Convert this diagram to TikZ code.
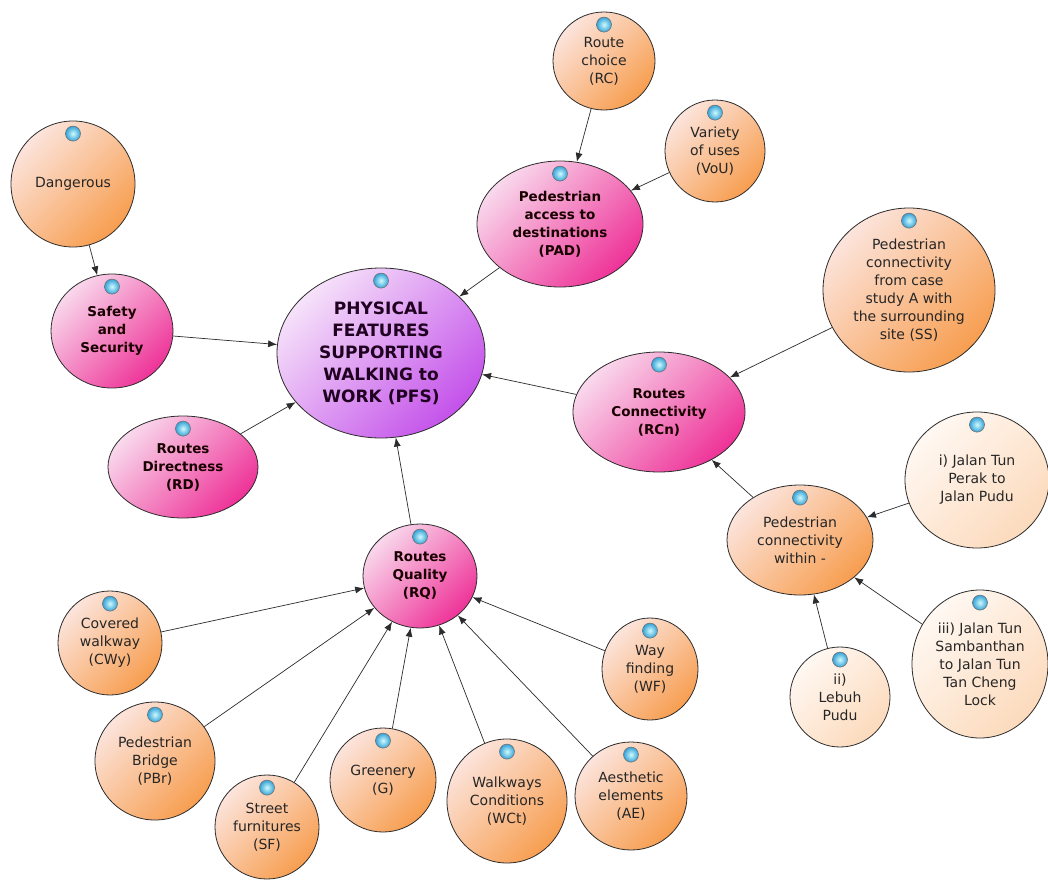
\documentclass[tikz,border=0pt]{standalone}
\usepackage{fontspec}
\setmainfont{DejaVu Sans}
\usetikzlibrary{shapes.geometric,arrows.meta}

\definecolor{peachlight}{HTML}{FCE4DC}
\definecolor{peachdark}{HTML}{F79E50}
\definecolor{creamlight}{HTML}{FFF8F2}
\definecolor{creamdark}{HTML}{FCDABC}
\definecolor{pinklight}{HTML}{F9D8EC}
\definecolor{pinkdark}{HTML}{EE3398}
\definecolor{violetlight}{HTML}{F6E2FA}
\definecolor{violetdark}{HTML}{C452EA}
\definecolor{bubin}{HTML}{D0FAFC}
\definecolor{bubout}{HTML}{34A2D8}
\definecolor{edgegray}{HTML}{2C2C2C}

\tikzset{
    dims/.style 2 args={minimum width=#1pt, minimum height=#2pt},
    factor/.style={ellipse, draw=edgegray, line width=0.8pt, inner sep=0pt, align=center,
        font=\fontsize{14}{18}\selectfont, text=black!85,
        top color=peachlight, bottom color=peachdark, shading angle=45},
    street/.style={factor, top color=creamlight, bottom color=creamdark, shading angle=45},
    group/.style={factor, font=\bfseries\fontsize{13.5}{18}\selectfont, text=black!90!red,
        top color=pinklight, bottom color=pinkdark, shading angle=45},
    core/.style={factor, font=\bfseries\fontsize{17}{22}\selectfont, text=black!75!violet,
        top color=violetlight, bottom color=violetdark, shading angle=45},
    link/.style={-{Latex[length=9pt,width=7pt]}, draw=edgegray, line width=0.7pt},
    bubble/.style={draw=black!55, line width=0.6pt, inner color=bubin, outer color=bubout}
}

\begin{document}
\begin{tikzpicture}[x=1pt,y=-1pt]
        \fill[white] (0,0) rectangle (1048,880);
        \useasboundingbox (0,0) rectangle (1048,880);

        \node[factor,dims={124}{126}] (dang) at (73,184) {Dangerous};
        \node[group,dims={122}{114}] (safe) at (112,331) {Safety\\and\\Security};
        \node[core,dims={208}{170}] (pfs) at (381,353) {PHYSICAL\\FEATURES\\SUPPORTING\\WALKING to\\WORK (PFS)};
        \node[group,dims={150}{102}] (rd) at (183,467) {Routes\\Directness\\(RD)};
        \node[group,dims={166}{126}] (pad) at (560,224) {Pedestrian\\access to\\destinations\\(PAD)};
        \node[factor,dims={102}{98}] (rc) at (604,61) {Route\\choice\\(RC)};
        \node[factor,dims={100}{102}] (vou) at (715,151) {Variety\\of uses\\(VoU)};
        \node[factor,dims={172}{164}] (ss) at (909,290) {Pedestrian\\connectivity\\from case\\study A with\\the surrounding\\site (SS)};
        \node[group,dims={172}{120}] (rcn) at (659,412) {Routes\\Connectivity\\(RCn)};
        \node[street,dims={144}{136}] (jtp) at (977,480) {i) Jalan Tun\\Perak to\\Jalan Pudu};
        \node[factor,dims={146}{110}] (pcw) at (800,540) {Pedestrian\\connectivity\\within -};
        \node[street,dims={136}{148}] (jts) at (980,664) {iii) Jalan Tun\\Sambanthan\\to Jalan Tun\\Tan Cheng\\Lock};
        \node[street,dims={100}{100}] (lp) at (840,697) {ii)\\Lebuh\\Pudu};
        \node[group,dims={114}{104}] (rq) at (420,576) {Routes\\Quality\\(RQ)};
        \node[factor,dims={104}{104}] (cwy) at (110,643) {Covered\\walkway\\(CWy)};
        \node[factor,dims={120}{118}] (pbr) at (155,761) {Pedestrian\\Bridge\\(PBr)};
        \node[factor,dims={104}{104}] (sf) at (267,827) {Street\\furnitures\\(SF)};
        \node[factor,dims={106}{104}] (gr) at (383,780) {Greenery\\(G)};
        \node[factor,dims={120}{124}] (wct) at (507,801) {Walkways\\Conditions\\(WCt)};
        \node[factor,dims={112}{108}] (ae) at (631,796) {Aesthetic\\elements\\(AE)};
        \node[factor,dims={96}{102}] (wf) at (650,669) {Way\\finding\\(WF)};

        \foreach \n in {dang,safe,pfs,rd,pad,rc,vou,ss,rcn,jtp,pcw,jts,lp,rq,cwy,pbr,sf,gr,wct,ae,wf}
            {\draw[bubble] ([yshift=-13pt]\n.north) circle (7.5pt);}

        \draw[link] (dang) -- (safe);
        \draw[link] (safe) -- (pfs);
        \draw[link] (rd) -- (pfs);
        \draw[link] (pad) -- (pfs);
        \draw[link] (rc) -- (pad);
        \draw[link] (vou) -- (pad);
        \draw[link] (rcn) -- (pfs);
        \draw[link] (ss) -- (rcn);
        \draw[link] (pcw) -- (rcn);
        \draw[link] (jtp) -- (pcw);
        \draw[link] (jts) -- (pcw);
        \draw[link] (lp) -- (pcw);
        \draw[link] (rq) -- (pfs);
        \foreach \n in {cwy,pbr,sf,gr,wct,ae,wf}
            {\draw[link] (\n) -- (rq);}
    \end{tikzpicture}
\end{document}
